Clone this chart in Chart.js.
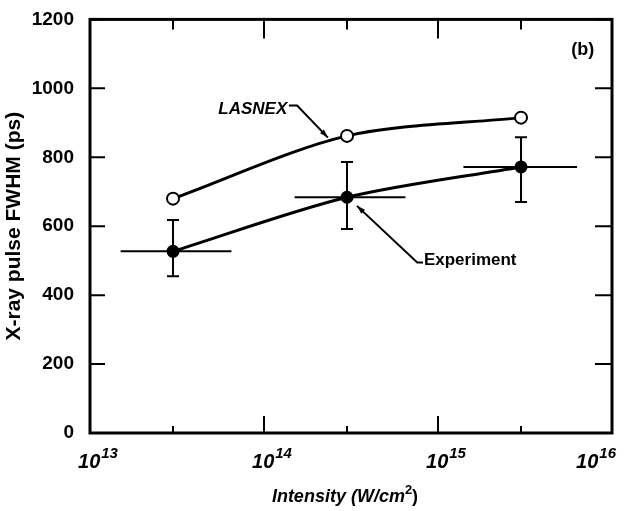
<!DOCTYPE html>
<html>
<head>
<meta charset="utf-8">
<script src="https://cdn.jsdelivr.net/npm/chart.js@4.4.1/dist/chart.umd.min.js"></script>
<style>
    html, body { margin: 0; padding: 0; background: #fff; }
</style>
</head>
<body>
<canvas id="chart" width="632" height="511"></canvas>
<script>
// intensity in W/cm^2, pulse width in ps
const intensity = [3e13, 3e14, 3e15];
const lasnex = [680, 862, 915];
const experiment = [527, 684, 772];
const expYLow = [455, 592, 670];
const expYHigh = [618, 786, 858];
const expXLow = [1.5e13, 1.5e14, 1.4e15];
const expXHigh = [6.5e13, 6.5e14, 6.3e15];

const yTicks = [0, 200, 400, 600, 800, 1000, 1200];
const xMajor = [1e13, 1e14, 1e15, 1e16];
const xMinor = [3e13, 3e14, 3e15];
const xExponents = ["13", "14", "15", "16"];

// label + leader arrows, in data units
const lasnexLabel = { text: "LASNEX", x: 1.36e14, y: 940 };
const lasnexArrow = [[1.39e14, 950], [1.55e14, 950], [2.33e14, 857]];
const expLabel = { text: "Experiment", x: 8.3e14, y: 500 };
const expArrow = [[8.2e14, 495], [7.6e14, 495], [3.42e14, 659]];
const panelLabel = { text: "(b)", x: 6.8e15, y: 1111 };

const SANS = "'Liberation Sans', Arial, sans-serif";

const toPoints = (xs, ys) => xs.map((x, i) => ({ x, y: ys[i] }));

const drawArrow = (ctx, pts) => {
    ctx.beginPath();
    ctx.moveTo(pts[0][0], pts[0][1]);
    for (let i = 1; i < pts.length; i++) {
        ctx.lineTo(pts[i][0], pts[i][1]);
    }
    ctx.stroke();
    const a = pts[pts.length - 2];
    const b = pts[pts.length - 1];
    const ang = Math.atan2(b[1] - a[1], b[0] - a[0]);
    const len = 9;
    ctx.beginPath();
    ctx.moveTo(b[0], b[1]);
    ctx.lineTo(b[0] - len * Math.cos(ang - 0.3), b[1] - len * Math.sin(ang - 0.3));
    ctx.lineTo(b[0] - len * Math.cos(ang + 0.3), b[1] - len * Math.sin(ang + 0.3));
    ctx.closePath();
    ctx.fill();
};

const decorations = {
    id: "decorations",
    beforeDatasetsDraw(chart) {
        const { ctx, scales: { x, y } } = chart;
        ctx.save();
        ctx.strokeStyle = "#000";
        ctx.lineWidth = 2;
        for (let i = 0; i < intensity.length; i++) {
            const px = x.getPixelForValue(intensity[i]);
            const py = y.getPixelForValue(experiment[i]);
            const top = y.getPixelForValue(expYHigh[i]);
            const bot = y.getPixelForValue(expYLow[i]);
            ctx.beginPath();
            ctx.moveTo(px, top);
            ctx.lineTo(px, bot);
            ctx.moveTo(px - 6, top);
            ctx.lineTo(px + 6, top);
            ctx.moveTo(px - 6, bot);
            ctx.lineTo(px + 6, bot);
            ctx.moveTo(x.getPixelForValue(expXLow[i]), py);
            ctx.lineTo(x.getPixelForValue(expXHigh[i]), py);
            ctx.stroke();
        }
        ctx.restore();
    },
    afterDraw(chart) {
        const { ctx, chartArea: area, scales: { x, y } } = chart;
        ctx.save();
        ctx.strokeStyle = "#000";
        ctx.fillStyle = "#000";

        // frame
        ctx.lineWidth = 3;
        ctx.strokeRect(area.left, area.top, area.right - area.left, area.bottom - area.top);

        // inward ticks
        ctx.lineWidth = 2;
        ctx.beginPath();
        yTicks.forEach((v) => {
            const py = y.getPixelForValue(v);
            ctx.moveTo(area.left, py);
            ctx.lineTo(area.left + 15, py);
            ctx.moveTo(area.right, py);
            ctx.lineTo(area.right - 17, py);
        });
        xMajor.forEach((v) => {
            const px = x.getPixelForValue(v);
            ctx.moveTo(px, area.bottom);
            ctx.lineTo(px, area.bottom - 17);
            ctx.moveTo(px, area.top);
            ctx.lineTo(px, area.top + 19);
        });
        xMinor.forEach((v) => {
            const px = x.getPixelForValue(v);
            ctx.moveTo(px, area.bottom);
            ctx.lineTo(px, area.bottom - 7);
            ctx.moveTo(px, area.top);
            ctx.lineTo(px, area.top + 10);
        });
        ctx.stroke();

        // x tick labels 10^n
        ctx.textBaseline = "alphabetic";
        ctx.textAlign = "left";
        xMajor.forEach((v, i) => {
            const px = x.getPixelForValue(v);
            ctx.font = "italic bold 20px " + SANS;
            const w1 = ctx.measureText("10").width;
            ctx.font = "italic bold 15px " + SANS;
            const w2 = ctx.measureText(xExponents[i]).width;
            const total = w1 + w2 + 1;
            const left = Math.min(px + 8 - total / 2, chart.width - 16 - total);
            ctx.font = "italic bold 20px " + SANS;
            ctx.fillText("10", left, area.bottom + 35);
            ctx.font = "italic bold 15px " + SANS;
            ctx.fillText(xExponents[i], left + w1 + 1, area.bottom + 25);
        });

        // x title with raised 2
        const titleY = 497;
        const cx = (area.left + area.right) / 2 - 6;
        ctx.textBaseline = "middle";
        ctx.font = "italic bold 18px " + SANS;
        const main = "Intensity (W/cm";
        const wm = ctx.measureText(main).width;
        ctx.font = "bold 13px " + SANS;
        const ws = ctx.measureText("2").width;
        ctx.font = "bold 18px " + SANS;
        const wc = ctx.measureText(")").width;
        let tx = cx - (wm + ws + wc) / 2;
        ctx.font = "italic bold 18px " + SANS;
        ctx.fillText(main, tx, titleY);
        tx += wm;
        ctx.font = "bold 13px " + SANS;
        ctx.fillText("2", tx, titleY - 7);
        tx += ws;
        ctx.font = "bold 18px " + SANS;
        ctx.fillText(")", tx, titleY);

        // annotations
        ctx.lineWidth = 2;
        ctx.font = "italic bold 17px " + SANS;
        ctx.textAlign = "right";
        ctx.fillText(lasnexLabel.text, x.getPixelForValue(lasnexLabel.x), y.getPixelForValue(lasnexLabel.y));
        drawArrow(ctx, lasnexArrow.map(([a, b]) => [x.getPixelForValue(a), y.getPixelForValue(b)]));

        ctx.font = "bold 17px " + SANS;
        ctx.textAlign = "left";
        ctx.fillText(expLabel.text, x.getPixelForValue(expLabel.x), y.getPixelForValue(expLabel.y));
        drawArrow(ctx, expArrow.map(([a, b]) => [x.getPixelForValue(a), y.getPixelForValue(b)]));

        ctx.font = "bold 18px " + SANS;
        ctx.textAlign = "center";
        ctx.fillText(panelLabel.text, x.getPixelForValue(panelLabel.x), y.getPixelForValue(panelLabel.y));
        ctx.restore();
    }
};

new Chart(document.getElementById("chart"), {
    type: "line",
    data: {
        datasets: [
            {
                label: "LASNEX",
                data: toPoints(intensity, lasnex),
                borderColor: "#000",
                borderWidth: 3,
                tension: 0.3,
                pointRadius: 6,
                pointBorderWidth: 2,
                pointBackgroundColor: "#fff",
                pointBorderColor: "#000",
                fill: false
            },
            {
                label: "Experiment",
                data: toPoints(intensity, experiment),
                borderColor: "#000",
                borderWidth: 3,
                tension: 0.3,
                pointRadius: 6.5,
                pointBorderWidth: 0,
                pointBackgroundColor: "#000",
                fill: false
            }
        ]
    },
    options: {
        responsive: false,
        animation: false,
        layout: { padding: { top: 10, right: 20, left: 0, bottom: 0 } },
        plugins: { legend: { display: false }, tooltip: { enabled: false } },
        scales: {
            x: {
                type: "logarithmic",
                min: 1e13,
                max: 1e16,
                grid: { display: false },
                border: { display: false },
                ticks: { display: false },
                afterFit: (scale) => { scale.height = 78; }
            },
            y: {
                min: 0,
                max: 1200,
                grid: { display: false },
                border: { display: false },
                ticks: {
                    stepSize: 200,
                    color: "#000",
                    padding: 8,
                    font: { family: SANS, size: 19, weight: "bold" },
                    callback: (v) => String(v)
                },
                title: {
                    display: true,
                    text: "X-ray pulse FWHM (ps)",
                    color: "#000",
                    font: { family: SANS, size: 21, weight: "bold" },
                    padding: { top: 2, bottom: 4 }
                },
                afterFit: (scale) => { scale.width = 90; }
            }
        }
    },
    plugins: [decorations]
});
</script>
</body>
</html>
